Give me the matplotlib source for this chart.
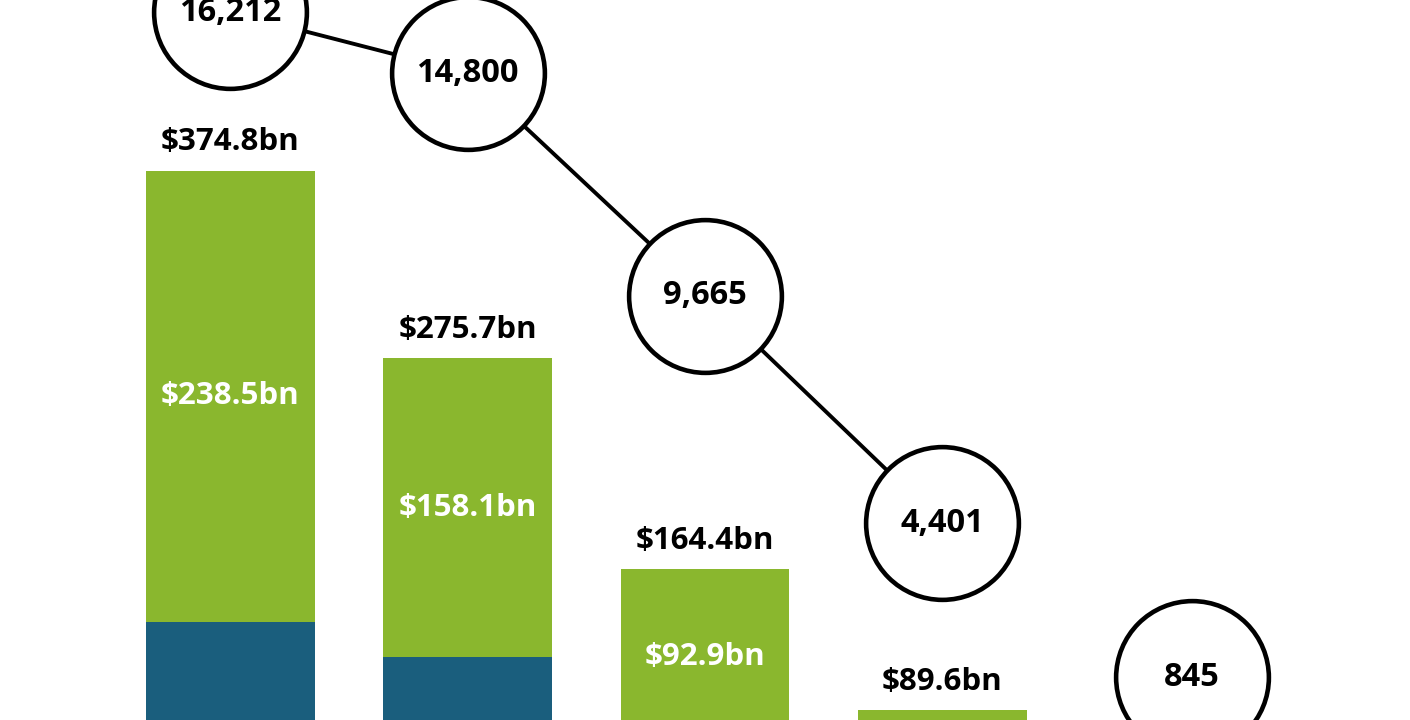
import matplotlib.pyplot as plt
import numpy as np

# values
totals = [374.8, 275.7, 164.4, 89.6]
upper = [238.5, 158.1, 92.9, None]
counts = [16212, 14800, 9665, 4401, 845]

GREEN = "#8AB72E"
BLUE = "#1A5E7D"

plt.rcParams['font.family'] = ['Open Sans', 'DejaVu Sans']

fig = plt.figure(figsize=(14.1, 7.2), dpi=100)
ax = fig.add_axes([0, 0, 1, 1])
ax2 = ax.twinx()

x = np.arange(len(totals))
lower = [t - u if u is not None else t for t, u in zip(totals, upper)]
width = 0.71

ax.bar(x, lower, width=width, color=BLUE)
green_part = [u if u is not None else 0 for u in upper]
ax.bar(x, green_part, bottom=lower, width=width, color=GREEN)
# last bar only shows its total, drawn all green
ax.bar(x[-1], totals[-1], width=width, color=GREEN)

for i, t in enumerate(totals):
    ax.text(i, t + 7, f"${t}bn", ha='center', va='bottom',
            fontsize=22.5, fontweight='bold', color='black')
    if upper[i] is not None:
        ax.text(i, lower[i] + upper[i] / 2, f"${upper[i]}bn",
                ha='center', va='center', fontsize=22.5, fontweight='bold',
                color='white')

cx = np.arange(len(counts), dtype=float)
cx[-1] += 0.05
# connecting line only joins the first four circles
ax2.plot(cx[:-1], counts[:-1], color='black', lw=2.8, zorder=2)
ax2.plot(cx, counts, linestyle='none', marker='o', markersize=110,
         markerfacecolor='white', markeredgecolor='black',
         markeredgewidth=3.3, clip_on=False, zorder=3)
for xi, c in zip(cx, counts):
    ax2.text(xi, c, f"{c:,}", ha='center', va='center', fontsize=23.5,
             fontweight='bold', zorder=4)

ax.set_xlim(-0.97, 4.97)
ax.set_ylim(84.5, 464.9)
ax2.set_ylim(-138, 16490)
for a in (ax, ax2):
    a.axis('off')

fig.savefig("out.png", dpi=100)
